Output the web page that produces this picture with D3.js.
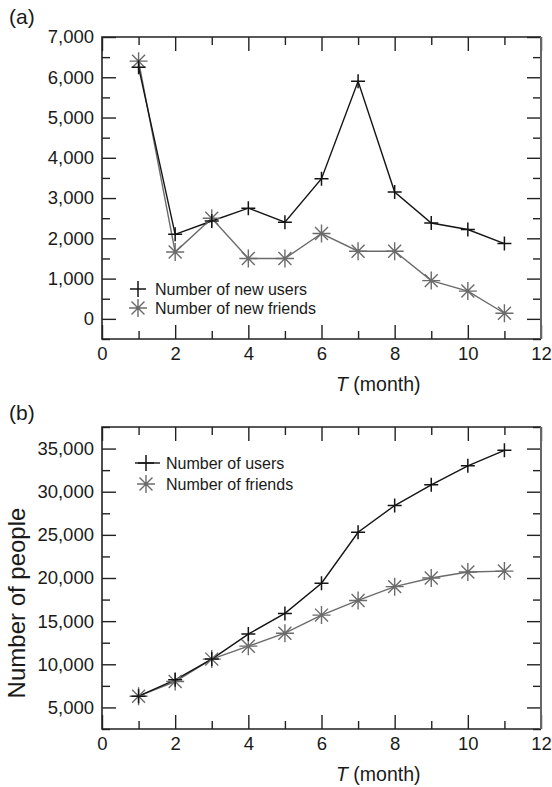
<!DOCTYPE html>
<html><head><meta charset="utf-8">
<script src="https://cdn.jsdelivr.net/npm/d3@7"></script>
<style>
html,body{margin:0;padding:0;background:#fff;}
text{font-family:"Liberation Sans",Arial,Helvetica,sans-serif;fill:#1a1a1a;}
</style></head>
<body>
<svg id="c" width="552" height="787"></svg>
<script>
// ---- data ----
const months = [1,2,3,4,5,6,7,8,9,10,11];
const newUsers   = [6250, 2100, 2430, 2750, 2400, 3480, 5900, 3150, 2380, 2220, 1870];
const newFriends = [6400, 1660, 2500, 1500, 1500, 2120, 1680, 1680, 950, 690, 140];
const totalUsers   = [6300, 8200, 10600, 13500, 15900, 19400, 25300, 28400, 30800, 33000, 34800];
const totalFriends = [6300, 8000, 10600, 12100, 13600, 15700, 17400, 19000, 20000, 20700, 20800];
const xMajorTicks = [0,2,4,6,8,10,12];
const xMinorTicks = [1,3,5,7,9,11];
const yTicksA = [0,1000,2000,3000,4000,5000,6000,7000];
const yMinorA = [-500,500,1500,2500,3500,4500,5500,6500];
const yTicksB = [5000,10000,15000,20000,25000,30000,35000];
const yMinorB = [2500,7500,12500,17500,22500,27500,32500,37500];
const legendA = ["Number of new users","Number of new friends"];
const legendB = ["Number of users","Number of friends"];
const xTitle = "(month)";

const svg = d3.select("#c");
const BLACK = "#141414", GRAY = "#6b6b6b";

function plus(g, cx, cy, r, color){
  g.append("path").attr("d",`M${cx-r},${cy}H${cx+r}M${cx},${cy-r}V${cy+r}`)
   .attr("stroke",color).attr("stroke-width",1.5).attr("fill","none");
}
function star(g, cx, cy, r, color){
  const d = r*0.72;
  g.append("path").attr("d",`M${cx-r},${cy}H${cx+r}M${cx},${cy-r}V${cy+r}M${cx-d},${cy-d}L${cx+d},${cy+d}M${cx-d},${cy+d}L${cx+d},${cy-d}`)
   .attr("stroke",color).attr("stroke-width",1.4).attr("fill","none");
}

function panel(cfg){
  const {top, bottom, yDomain, yTicks, yMinor, s1, s2, leg, legX, legY, legGap, label, labelY, yTitle, legLine} = cfg;
  const left = 102, right = 541;
  const x = d3.scaleLinear().domain([0,12]).range([left,right]);
  const y = d3.scaleLinear().domain(yDomain).range([bottom,top]);
  const g = svg.append("g");

  const styleAxis = (sel, hideText) => {
    sel.select(".domain").remove();
    sel.selectAll(".tick line").attr("stroke","#222").attr("stroke-width",1.4);
    sel.selectAll(".tick text").attr("font-size",18.5).attr("fill","#1a1a1a");
    if(hideText) sel.selectAll(".tick text").remove();
  };
  // left
  g.append("g").attr("transform",`translate(${left},0)`)
    .call(d3.axisLeft(y).tickValues(yTicks).tickSize(-14).tickPadding(8).tickFormat(d3.format(",")))
    .call(s=>styleAxis(s,false));
  g.append("g").attr("transform",`translate(${left},0)`)
    .call(d3.axisLeft(y).tickValues(yMinor).tickSize(-8).tickFormat(""))
    .call(s=>styleAxis(s,true));
  // right
  g.append("g").attr("transform",`translate(${right},0)`)
    .call(d3.axisRight(y).tickValues(yTicks).tickSize(-14).tickFormat(""))
    .call(s=>styleAxis(s,true));
  g.append("g").attr("transform",`translate(${right},0)`)
    .call(d3.axisRight(y).tickValues(yMinor).tickSize(-8).tickFormat(""))
    .call(s=>styleAxis(s,true));
  // bottom
  g.append("g").attr("transform",`translate(0,${bottom})`)
    .call(d3.axisBottom(x).tickValues(xMajorTicks).tickSize(-14).tickPadding(8).tickFormat(d3.format("d")))
    .call(s=>styleAxis(s,false));
  g.append("g").attr("transform",`translate(0,${bottom})`)
    .call(d3.axisBottom(x).tickValues(xMinorTicks).tickSize(-8).tickFormat(""))
    .call(s=>styleAxis(s,true));
  // top
  g.append("g").attr("transform",`translate(0,${top})`)
    .call(d3.axisTop(x).tickValues(xMajorTicks).tickSize(-14).tickFormat(""))
    .call(s=>styleAxis(s,true));
  g.append("g").attr("transform",`translate(0,${top})`)
    .call(d3.axisTop(x).tickValues(xMinorTicks).tickSize(-8).tickFormat(""))
    .call(s=>styleAxis(s,true));

  // frame
  g.append("path").attr("d",`M${right},${top}H${left}V${bottom}H${right}`)
    .attr("fill","none").attr("stroke","#222").attr("stroke-width",1.6);
  g.append("line").attr("x1",right).attr("x2",right).attr("y1",top).attr("y2",bottom)
    .attr("stroke","#666").attr("stroke-width",2);

  // series
  const line = d3.line().x((d,i)=>x(months[i])).y(d=>y(d));
  g.append("path").datum(s2).attr("d",line).attr("fill","none").attr("stroke",GRAY).attr("stroke-width",1.4);
  g.append("path").datum(s1).attr("d",line).attr("fill","none").attr("stroke",BLACK).attr("stroke-width",1.4);
  s2.forEach((v,i)=>star(g, x(months[i]), y(v), 9, GRAY));
  s1.forEach((v,i)=>plus(g, x(months[i]), y(v), 7, BLACK));

  // legend
  if(legLine){
    g.append("line").attr("x1",legX-11).attr("x2",legX+14).attr("y1",legY).attr("y2",legY).attr("stroke",BLACK).attr("stroke-width",1.4);
  }
  plus(g, legX, legY, 8, BLACK);
  star(g, legX, legY+legGap, 9, GRAY);
  g.append("text").attr("x",legX+(legLine?20:17)).attr("y",legY+6).attr("font-size",16).text(leg[0]);
  g.append("text").attr("x",legX+(legLine?20:17)).attr("y",legY+legGap+6).attr("font-size",16).text(leg[1]);

  // x title
  const xt = g.append("text").attr("x",336).attr("y",bottom+52).attr("font-size",19.5);
  xt.append("tspan").attr("font-style","italic").text("T");
  xt.append("tspan").text(" "+xTitle);

  // panel label
  g.append("text").attr("x",9).attr("y",labelY).attr("font-size",21).text(label);

  if(yTitle){
    g.append("text").attr("transform",`translate(25,${(top+bottom)/2+25}) rotate(-90)`)
      .attr("text-anchor","middle").attr("font-size",24).text(yTitle);
  }
}

panel({top:37, bottom:339, yDomain:[-500,7000], yTicks:yTicksA, yMinor:yMinorA,
  s1:newUsers, s2:newFriends, leg:legendA, legX:138, legY:289, legGap:19, label:"(a)", labelY:24, legLine:false});
panel({top:427, bottom:729, yDomain:[2500,37500], yTicks:yTicksB, yMinor:yMinorB,
  s1:totalUsers, s2:totalFriends, leg:legendB, legX:146, legY:463, legGap:21, label:"(b)", labelY:420,
  yTitle:"Number of people", legLine:true});
</script>
</body></html>
